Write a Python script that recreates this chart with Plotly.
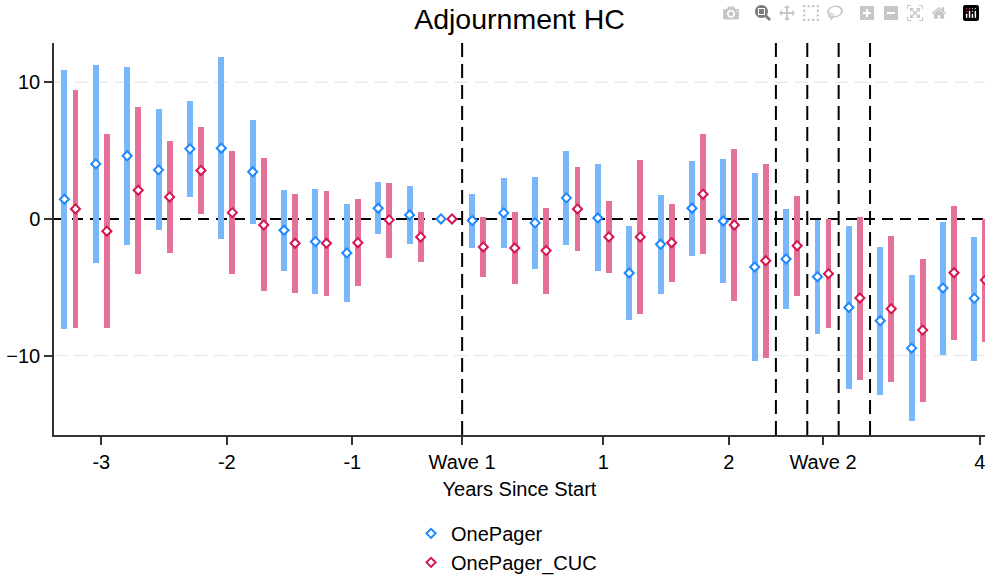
import plotly.graph_objects as go

# ---- data ----
quarters = [-3.25, -3.0, -2.75, -2.5, -2.25, -2.0, -1.75, -1.5, -1.25, -1.0,
            -0.75, -0.5, -0.25, 0.0, 0.25, 0.5, 0.75, 1.0, 1.25, 1.5,
            1.75, 2.0, 2.25, 2.5, 2.75, 3.0, 3.25, 3.5, 3.75, 4.0]

onepager_est = [1.44, 4.03, 4.62, 3.59, 5.13, 5.18, 3.45, -0.83, -1.66, -2.49,
                0.78, 0.29, 0.0, -0.12, 0.44, -0.29, 1.54, 0.07, -3.96, -1.86,
                0.78, -0.15, -3.52, -2.93, -4.23, -6.48, -7.46, -9.46, -5.06, -5.82]
onepager_lo = [-8.07, -3.25, -1.88, -0.83, 1.61, -1.47, -0.37, -3.79, -5.53, -6.06,
               -1.12, -1.86, 0.0, -2.15, -2.10, -3.69, -1.91, -3.84, -7.38, -5.48,
               -2.71, -4.67, -10.37, -6.58, -8.39, -12.47, -12.91, -14.77, -9.95, -10.37]
onepager_hi = [10.93, 11.30, 11.12, 8.02, 8.66, 11.83, 7.26, 2.13, 2.18, 1.08,
               2.69, 2.42, 0.0, 1.83, 2.98, 3.08, 4.99, 4.01, -0.51, 1.76,
               4.25, 4.38, 3.35, 0.71, -0.10, -0.54, -2.05, -4.13, -0.20, -1.30]

cuc_est = [0.73, -0.90, 2.10, 1.61, 3.55, 0.46, -0.44, -1.78, -1.78, -1.74,
           -0.07, -1.32, 0.0, -2.05, -2.13, -2.32, 0.73, -1.32, -1.32, -1.74,
           1.81, -0.44, -3.06, -1.96, -4.01, -5.79, -6.58, -8.14, -3.94, -4.47]
cuc_lo = [-7.97, -7.97, -4.06, -2.47, 0.39, -4.01, -5.31, -5.43, -5.62, -4.94,
          -2.84, -3.18, 0.0, -4.28, -4.77, -5.50, -2.32, -3.99, -6.99, -4.60,
          -2.59, -6.01, -10.20, -5.62, -7.97, -11.76, -11.93, -13.37, -8.83, -9.00]
cuc_hi = [9.46, 6.19, 8.22, 5.67, 6.72, 4.94, 4.43, 1.83, 2.05, 1.44,
          2.64, 0.51, 0.0, 0.15, 0.51, 0.83, 3.77, 1.34, 4.33, 1.10,
          6.19, 5.13, 4.01, 1.71, -0.02, 0.17, -1.22, -2.93, 0.95, -0.02]

tick_vals = [-3, -2, -1, -0.125, 1, 2, 2.75, 4]
tick_text = ["-3", "-2", "-1", "Wave 1", "1", "2", "Wave 2", "4"]
y_tick_vals = [-10, 0, 10]
grid_vals = [-10, 10]
wave_lines = [-0.125, 2.375, 2.625, 2.875, 3.125]

# ---- styling ----
FONT = "Liberation Sans, Arial, Helvetica, sans-serif"
BLUE_BAR = "rgb(122,182,250)"
BLUE_MK = "rgb(30,136,255)"
RED_BAR = "rgb(228,114,152)"
RED_MK = "rgb(214,22,82)"
OFF = 0.044
BW = 0.047

x_blue = [q - OFF for q in quarters]
x_red = [q + OFF for q in quarters]

fig = go.Figure()
fig.add_trace(go.Bar(x=x_blue, y=[h - l for h, l in zip(onepager_hi, onepager_lo)],
                     base=onepager_lo, width=BW, marker=dict(color=BLUE_BAR, line=dict(width=0)),
                     showlegend=False, hoverinfo="skip"))
fig.add_trace(go.Bar(x=x_red, y=[h - l for h, l in zip(cuc_hi, cuc_lo)],
                     base=cuc_lo, width=BW, marker=dict(color=RED_BAR, line=dict(width=0)),
                     showlegend=False, hoverinfo="skip"))
fig.add_trace(go.Scatter(x=x_blue, y=onepager_est, mode="markers", name="OnePager",
                         marker=dict(symbol="diamond", size=7, color="white",
                                     line=dict(color=BLUE_MK, width=2))))
fig.add_trace(go.Scatter(x=x_red, y=cuc_est, mode="markers", name="OnePager_CUC",
                         marker=dict(symbol="diamond", size=7, color="white",
                                     line=dict(color=RED_MK, width=2))))

shapes = []
for gv in grid_vals:
    shapes.append(dict(type="line", xref="paper", x0=0, x1=1, yref="y", y0=gv, y1=gv,
                       line=dict(color="#ebebeb", width=1.5, dash="14px,6px"), layer="below"))
shapes.append(dict(type="line", xref="paper", x0=0, x1=1, yref="y", y0=0, y1=0,
                   line=dict(color="black", width=2, dash="11px,7px"), layer="below"))
for xv in wave_lines:
    shapes.append(dict(type="line", xref="x", x0=xv, x1=xv, yref="paper", y0=0, y1=1,
                       line=dict(color="black", width=2, dash="14px,7px"), layer="below"))

fig.update_layout(
    width=985, height=580,
    margin=dict(l=54, r=0, t=43, b=145, autoexpand=False),
    paper_bgcolor="white", plot_bgcolor="white",
    barmode="overlay", bargap=0,
    font=dict(family=FONT, size=20, color="black"),
    title=dict(text="Adjournment HC", x=0.5, xref="paper", xanchor="center",
               y=1 - 19.5 / 580, yanchor="middle", font=dict(size=28.5, color="black")),
    showlegend=True,
    shapes=shapes,
    legend=dict(orientation="v", x=0.3835, xanchor="left", y=-0.2012, yanchor="top",
                font=dict(size=20), itemwidth=30, tracegroupgap=0, bgcolor="rgba(0,0,0,0)"),
    xaxis=dict(range=[-3.377, 4.041], tickmode="array", tickvals=tick_vals, ticktext=tick_text,
               ticks="outside", ticklen=8, tickwidth=1.5, tickcolor="#333", automargin=False,
               ticklabeloverflow="allow",
               showline=True, linecolor="#333", linewidth=1.5, showgrid=False, zeroline=False,
               title=dict(text="Years Since Start", standoff=10, font=dict(size=20))),
    yaxis=dict(range=[-15.82, 12.88], tickmode="array", tickvals=y_tick_vals,
               ticks="outside", ticklen=8, tickwidth=1.5, tickcolor="#333", automargin=False,
               ticklabeloverflow="allow",
               showline=True, linecolor="#333", linewidth=1.5, zeroline=False, showgrid=False),
)

# remove the page's default 8px body margin so the 985x580 figure fills the window exactly
fig.write_html(
    "out.html",
    post_script="document.body.style.margin='0';"
                "document.documentElement.style.overflow='hidden';",
)
